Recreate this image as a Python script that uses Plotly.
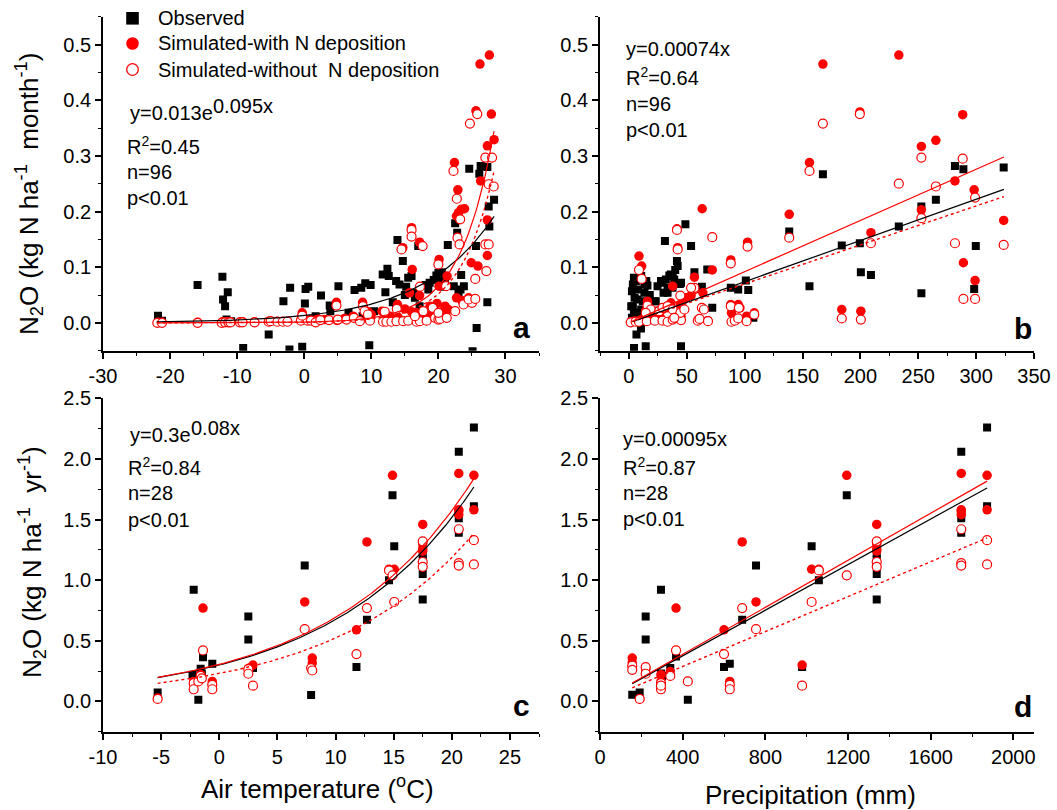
import numpy as np
import plotly.graph_objects as go

W, H = 1057, 810
FONT = "Liberation Sans, Arial, sans-serif"
RED = "#ff0000"

# ---------------- Panel a : monthly N2O vs air temperature ----------------
a_obs_x = [-21.8,-21.2,-15.9,-12.2,-12.1,-11.8,-11.4,-11.6,-10.9,-9.1,-5.3,-3.1,-2.2,-2.1,-0.3,0.1,0.2,0.6,1.7,2.5,
           3.8,3.9,5.1,6.6,7.5,8.5,9.1,9.9,8.7,9.7,10.4,11.7,12.4,12.1,12.6,13.9,14.7,13.7,14.2,15.2,
           13.2,13.7,15.5,16.0,16.3,17.0,16.5,17.2,17.5,18.1,18.7,19.3,19.7,20.5,20.3,21.4,20.8,20.0,22.5,22.8,
           22.3,23.0,23.4,23.3,23.8,24.6,25.6,25.7,25.1,26.1,26.3,27.3,27.5,27.6,28.3,27.3,9.3,18.5,21.0,15.0]
a_obs_y = [0.013,0.004,0.068,0.083,0.042,0.030,0.055,0.006,0.003,-0.045,-0.021,0.039,-0.048,0.063,-0.043,0.035,0.061,0.065,0.012,0.049,
           0.031,0.021,0.066,0.018,0.059,0.063,0.071,0.068,0.012,-0.040,0.021,0.087,0.097,0.055,0.084,0.149,0.111,0.075,0.069,0.065,
           0.037,0.033,0.081,0.084,0.054,0.138,0.045,0.030,0.015,0.068,0.072,0.077,0.085,0.091,0.075,0.140,0.065,0.090,0.179,0.162,
           0.066,0.054,0.086,0.060,0.066,0.277,0.138,-0.009,-0.051,0.268,0.282,0.280,0.209,0.173,0.221,0.037,0.014,0.060,0.080,0.050]
a_with_x = [-21.8,-21.2,-15.9,-12.2,-11.5,-11.0,-9.5,-9.2,-7.4,-5.3,-4.0,-3.2,-2.5,-0.5,0.5,1.0,
            26.2,27.6,25.6,27.9,28.3,27.3,22.4,22.9,26.3,23.4,23.9,23.0,22.7,27.3,27.3,24.9,25.9,22.7,21.3,21.5,
            20.1,20.1,19.8,16.1,15.7,17.2,16.7,17.5,14.7,16.0,17.2,11.6,13.9,8.7,7.3,4.8,-0.3,2.0,18.75,12.0,
            16.0,14.0,10.0,3.0,6.0,9.5,12.8,15.0,19.0,20.5,21.0,23.5,24.5,18.0]
a_with_y = [0.001,0.001,0.001,0.002,0.002,0.002,0.002,0.002,0.002,0.003,0.003,0.003,0.003,0.005,0.005,0.005,
            0.465,0.481,0.381,0.375,0.329,0.318,0.288,0.239,0.255,0.204,0.205,0.198,0.192,0.185,0.121,0.108,0.102,0.045,0.084,0.024,
            0.066,0.114,0.035,0.096,0.054,0.049,0.018,0.015,0.135,0.171,0.145,0.021,0.033,0.037,0.012,0.037,0.018,0.007,0.030,0.018,
            0.020,0.010,0.015,0.006,0.008,0.020,0.012,0.025,0.015,0.020,0.030,0.040,0.045,0.012]
a_wo_x = [-21.9,-21.2,-15.9,-12.3,-11.8,-11.3,-11.0,-9.6,-9.2,-7.4,-5.3,-5.0,-4.0,-3.2,-2.5,-0.5,0.5,1.0,1.7,2.4,
          3.7,4.9,5.0,6.3,7.4,8.3,9.6,9.8,-0.3,4.8,8.75,9.0,9.5,11.75,12.25,13.0,13.75,14.75,15.5,16.75,
          17.25,18.25,19.5,20.0,20.25,21.25,12.0,13.8,16.5,17.75,19.15,20.0,22.5,23.75,25.0,24.5,25.5,25.5,27.15,27.0,
          27.5,21.15,17.25,20.0,14.5,17.65,16.0,16.0,22.85,23.15,22.25,22.75,23.25,27.0,28.0,27.5,28.25,25.8,24.7]
a_wo_y = [0.0,0.0,0.0,0.0,0.001,0.001,0.001,0.001,0.001,0.001,0.002,0.003,0.002,0.002,0.002,0.004,0.004,0.004,0.001,0.005,
          0.005,0.005,0.006,0.006,0.009,0.003,0.009,0.004,0.013,0.031,0.030,0.021,0.015,0.002,0.002,0.002,0.003,0.003,0.004,0.002,
          0.003,0.004,0.009,0.006,0.007,0.009,0.020,0.025,0.012,0.021,0.027,0.018,0.021,0.033,0.036,0.042,0.043,0.079,0.093,0.141,
          0.141,0.066,0.065,0.105,0.132,0.138,0.167,0.155,0.153,0.141,0.273,0.223,0.186,0.297,0.297,0.249,0.245,0.375,0.358]

# ---------------- Panel b : monthly N2O vs precipitation ----------------
b_obs_x = [323.8,281.7,289,265.2,252.7,233.2,183.9,199.5,200.4,209.1,252.7,299.7,298.3,167.6,138.5,156,101,103.1,94.4,88,
           107.5,72,67.7,63,56.6,53.7,48.8,31.1,41.5,42.1,34.9,31.9,29,37.8,45,24.7,29.9,33.4,23.2,14.5,
           4.4,45,6.5,10.4,4.3,3.4,2.6,4.9,3.4,4.3,2.6,10.6,13.4,13.4,12,10.6,7.3,8.7,4.4,16,
           36.3,39.1,33.4,37.7,27.7,22,6,8,18,40,44,2,15]
b_obs_y = [0.279,0.282,0.276,0.221,0.209,0.173,0.139,0.143,0.091,0.086,0.053,0.138,0.061,0.267,0.164,0.066,0.076,0.059,0.06,0.063,
           0.009,0.027,0.096,0.065,0.091,0.138,0.177,0.147,0.111,0.102,0.085,0.078,0.072,0.084,0.072,0.066,0.054,0.054,0.039,-0.042,
           -0.045,-0.042,-0.021,-0.010,0.081,0.069,0.057,0.045,0.030,0.018,0.009,0.084,0.069,0.054,0.039,0.024,0.042,0.018,0.006,0.067,
           0.087,0.078,0.063,0.063,0.075,0.039,0.075,0.06,0.05,0.095,0.07,0.03,0.075]
b_with_x = [233.2,167.6,199.5,288.4,265.2,252.7,156,281.7,298.3,138.5,323.8,252.7,209.1,102.5,88,289,299.1,183.9,200.4,63.3,
            72,56.6,41.5,42.1,8.7,11,37.8,63.9,53.7,49.4,36.3,44.4,16,88,94.4,88.6,95.9,108.3,101.7,14.5,
            23.2,29,32.8,2,4,6,10,20,27,45,60,68]
b_with_y = [0.481,0.465,0.379,0.374,0.328,0.317,0.288,0.255,0.239,0.195,0.184,0.203,0.162,0.145,0.113,0.108,0.076,0.024,0.021,0.205,
            0.095,0.082,0.169,0.135,0.120,0.102,0.066,0.054,0.049,0.045,0.036,0.033,0.039,0.033,0.033,0.018,0.027,0.018,0.012,0.021,
            0.021,0.024,0.027,0.002,0.003,0.003,0.005,0.008,0.01,0.012,0.006,0.004]
b_wo_x = [199.5,167.6,252.7,288.4,156,233.2,265.2,299.1,252.7,323.8,281.7,209.1,138.5,102.5,88,72,41.5,42.1,289,299.1,
          183.9,200.4,8.7,11,56.6,53.7,63,64.8,88,95,108.3,1.5,5.8,8.7,15.4,22.4,29,33.4,37.8,45,
          59.5,61,68.3,88.6,91.5,94.4,101.7,16,18.9,26.1,29,33.4,37.8,44.4,47.9,14.5,39.2,44.4]
b_wo_y = [0.375,0.358,0.297,0.295,0.273,0.250,0.245,0.225,0.188,0.140,0.143,0.143,0.153,0.137,0.107,0.154,0.167,0.132,0.043,0.043,
          0.008,0.006,0.095,0.079,0.063,0.063,0.027,0.024,0.030,0.027,0.015,0.001,0.002,0.002,0.003,0.004,0.004,0.002,0.006,0.005,
          0.004,0.007,0.003,0.002,0.004,0.008,0.003,0.031,0.024,0.021,0.027,0.030,0.024,0.018,0.024,0.018,0.009,0.049]

# ---------------- Panel c : annual N2O vs air temperature ----------------
c_obs_x = [-5.3,-2.2,-2.3,-1.8,-1.6,-1.4,-0.6,2.5,2.5,2.9,7.35,7.9,11.8,12.7,14.9,15.05,14.6,17.5,17.5,17.5,
           20.6,20.6,20.6,21.9,21.9,17.5,20.6,-1.5]
c_obs_y = [0.074,0.92,0.22,0.014,0.27,0.365,0.31,0.70,0.51,0.275,1.12,0.052,0.283,0.673,1.70,1.28,1.00,0.84,1.05,1.22,
           2.06,1.51,1.39,2.26,1.61,1.17,1.55,0.23]
c_with_x = [-5.3,-1.4,-2.2,-1.6,-0.6,-0.6,2.9,2.6,7.35,8.0,8.0,11.8,12.7,14.9,14.6,15.05,17.5,17.5,17.5,20.6,
            20.6,20.6,21.9,21.9,2.5,-2.2,17.5,20.6]
c_with_y = [0.027,0.77,0.165,0.22,0.165,0.137,0.30,0.275,0.82,0.357,0.316,0.59,1.315,1.865,1.09,1.09,1.46,1.26,1.24,1.88,
            1.58,1.54,1.865,1.58,0.27,0.14,1.30,1.57]
c_wo_x = [-5.3,-1.4,-2.2,-2.2,-1.8,-1.6,-0.6,-0.6,2.5,2.5,2.9,7.35,7.9,8.0,11.8,12.7,14.6,14.9,15.05,17.5,
          17.5,17.5,20.6,20.6,20.6,21.9,21.9,-1.5]
c_wo_y = [0.02,0.42,0.15,0.10,0.165,0.21,0.137,0.10,0.266,0.228,0.13,0.596,0.275,0.255,0.39,0.77,1.08,1.04,0.82,1.32,
          1.15,1.11,1.42,1.14,1.12,1.33,1.13,0.19]

# ---------------- Panel d : annual N2O vs precipitation ----------------
d_obs_x = [156,192,221,221,295,295,340,368,425,600,628,688,755,978,1024,1059,1194,1339,1339,1339,
           1748,1748,1748,1873,1873,1748,1339,300]
d_obs_y = [0.055,0.074,0.70,0.51,0.92,0.23,0.275,0.37,0.014,0.283,0.31,0.673,1.12,0.283,1.28,1.00,1.70,0.84,1.05,1.22,
           2.06,1.51,1.39,2.26,1.61,1.55,1.17,0.21]
d_with_x = [156,156,192,221,295,295,340,368,600,628,628,688,755,978,1024,1059,1194,1339,1339,1339,
            1748,1748,1748,1873,1873,1339,1748,221]
d_with_y = [0.357,0.32,0.02,0.26,0.22,0.165,0.247,0.77,0.59,0.165,0.137,1.315,0.82,0.30,1.09,1.09,1.865,1.46,1.26,1.24,
            1.88,1.58,1.54,1.865,1.58,1.30,1.57,0.27]
d_wo_x = [156,156,192,221,221,295,295,340,368,425,600,628,628,688,755,978,1024,1059,1194,1339,
          1339,1339,1748,1748,1748,1873,1873,295]
d_wo_y = [0.294,0.26,0.02,0.283,0.228,0.15,0.10,0.21,0.42,0.165,0.39,0.137,0.10,0.77,0.596,0.13,0.82,1.08,1.04,1.32,
          1.15,1.11,1.42,1.14,1.12,1.33,1.13,0.13]

# ---------------- fitted curves (coefficients) ----------------
# exponential: y = a*exp(b*x); linear: y = k*x
fit_a = {"obs": (0.013, 0.095), "with": (0.0012, 0.20), "wo": (0.00095, 0.20)}
fit_a_span = (-22.0, 28.3)
fit_b = {"obs": 0.00074, "with": 0.00092, "wo": 0.00070}
fit_b_span = (3.0, 324.0)
fit_c = {"obs": (0.30, 0.081), "with": (0.305, 0.082), "wo": (0.23, 0.082)}
fit_c_span = (-5.3, 21.9)
fit_d = {"obs": 0.00094, "with": 0.00097, "wo": 0.00072}
fit_d_span = (156.0, 1873.0)

# ---------------- text ----------------
stats_a = ["R<sup>2</sup>=0.45", "n=96", "p&lt;0.01"]
stats_b = ["y=0.00074x", "R<sup>2</sup>=0.64", "n=96", "p&lt;0.01"]
stats_c = ["R<sup>2</sup>=0.84", "n=28", "p&lt;0.01"]
stats_d = ["y=0.00095x", "R<sup>2</sup>=0.87", "n=28", "p&lt;0.01"]
eq_a = ("y=0.013e", "0.095x")
eq_c = ("y=0.3e", "0.08x")
legend_names = ["Observed", "Simulated-with N deposition", "Simulated-without\u00a0 N deposition"]

# tick definitions
xt_a = [-30, -20, -10, 0, 10, 20, 30]
xt_b = [0, 50, 100, 150, 200, 250, 300, 350]
xt_c = [-10, -5, 0, 5, 10, 15, 20, 25]
xt_d = [0, 400, 800, 1200, 1600, 2000]
yt_top = [0.0, 0.1, 0.2, 0.3, 0.4, 0.5]
yt_bot = [0.0, 0.5, 1.0, 1.5, 2.0, 2.5]

# ---------------- layout geometry (pixels) ----------------
LX = (103, 539)
RX = (600, 1034)
TY = (16.7, 350.7)
BY = (398.3, 731.7)


def xdom(p):
    return [p[0] / W, p[1] / W]


def ydom(p):
    return [1 - p[1] / H, 1 - p[0] / H]


fig = go.Figure()

panels = [
    ("x", "y", (a_obs_x, a_obs_y), (a_with_x, a_with_y), (a_wo_x, a_wo_y)),
    ("x2", "y2", (b_obs_x, b_obs_y), (b_with_x, b_with_y), (b_wo_x, b_wo_y)),
    ("x3", "y3", (c_obs_x, c_obs_y), (c_with_x, c_with_y), (c_wo_x, c_wo_y)),
    ("x4", "y4", (d_obs_x, d_obs_y), (d_with_x, d_with_y), (d_wo_x, d_wo_y)),
]

for xa, ya, obs, wi, wo in panels:
    fig.add_trace(go.Scatter(x=obs[0], y=obs[1], mode="markers", xaxis=xa, yaxis=ya, showlegend=False,
                             marker=dict(symbol="square", size=8, color="black", line=dict(width=0))))
    fig.add_trace(go.Scatter(x=wi[0], y=wi[1], mode="markers", xaxis=xa, yaxis=ya, showlegend=False,
                             marker=dict(symbol="circle", size=9.5, color=RED, line=dict(width=0))))
    fig.add_trace(go.Scatter(x=wo[0], y=wo[1], mode="markers", xaxis=xa, yaxis=ya, showlegend=False,
                             marker=dict(symbol="circle", size=9, color="white", line=dict(width=1.2, color=RED))))


def add_lines(xa, ya, xs, ys_obs, ys_with, ys_wo):
    fig.add_trace(go.Scatter(x=xs, y=ys_wo, mode="lines", xaxis=xa, yaxis=ya, showlegend=False,
                             line=dict(color=RED, width=1.4, dash="dot")))
    fig.add_trace(go.Scatter(x=xs, y=ys_obs, mode="lines", xaxis=xa, yaxis=ya, showlegend=False,
                             line=dict(color="black", width=1.2)))
    fig.add_trace(go.Scatter(x=xs, y=ys_with, mode="lines", xaxis=xa, yaxis=ya, showlegend=False,
                             line=dict(color=RED, width=1.2)))


xs = np.linspace(*fit_a_span, 200)
add_lines("x", "y", xs, *[fit_a[k][0] * np.exp(fit_a[k][1] * xs) for k in ("obs", "with", "wo")])
xs = np.linspace(*fit_b_span, 50)
add_lines("x2", "y2", xs, *[fit_b[k] * xs for k in ("obs", "with", "wo")])
xs = np.linspace(*fit_c_span, 200)
add_lines("x3", "y3", xs, *[fit_c[k][0] * np.exp(fit_c[k][1] * xs) for k in ("obs", "with", "wo")])
xs = np.linspace(*fit_d_span, 50)
add_lines("x4", "y4", xs, *[fit_d[k] * xs for k in ("obs", "with", "wo")])

tickfont = dict(family=FONT, size=20, color="black")


def axis(dom, rng, tv, tt, minor_vals, anchor):
    return dict(domain=dom, range=rng, anchor=anchor, showline=True, linecolor="black", linewidth=1.8,
                ticks="outside", ticklen=6, tickwidth=1.5, tickcolor="black", showgrid=False, zeroline=False,
                tickmode="array", tickvals=tv, ticktext=tt, tickfont=tickfont, automargin=False,
                minor=dict(tickmode="array", tickvals=minor_vals, ticks="outside", ticklen=3.5,
                           tickwidth=1.3, tickcolor="black", showgrid=False))


def lab(vals, fmt):
    return [fmt.format(v) for v in vals]


fig.update_layout(
    width=W, height=H, margin=dict(l=0, r=0, t=0, b=0),
    paper_bgcolor="white", plot_bgcolor="white",
    xaxis=axis(xdom(LX), [-30, 35], xt_a, lab(xt_a, "{:d}"), [-25, -15, -5, 5, 15, 25, 35], "y"),
    yaxis=axis(ydom(TY), [-0.05, 0.55], yt_top, lab(yt_top, "{:.1f}"),
               [-0.05, 0.05, 0.15, 0.25, 0.35, 0.45, 0.55], "x"),
    xaxis2=axis(xdom(RX), [-25, 350], xt_b, lab(xt_b, "{:d}"), [-25, 25, 75, 125, 175, 225, 275, 325], "y2"),
    yaxis2=axis(ydom(TY), [-0.05, 0.55], yt_top, lab(yt_top, "{:.1f}"),
                [-0.05, 0.05, 0.15, 0.25, 0.35, 0.45, 0.55], "x2"),
    xaxis3=axis(xdom(LX), [-10, 27.5], xt_c, lab(xt_c, "{:d}"),
                [-7.5, -2.5, 2.5, 7.5, 12.5, 17.5, 22.5, 27.5], "y3"),
    yaxis3=axis(ydom(BY), [-0.25, 2.5], yt_bot, lab(yt_bot, "{:.1f}"),
                [-0.25, 0.25, 0.75, 1.25, 1.75, 2.25], "x3"),
    xaxis4=axis(xdom(RX), [0, 2100], xt_d, lab(xt_d, "{:d}"), [200, 600, 1000, 1400, 1800], "y4"),
    yaxis4=axis(ydom(BY), [-0.25, 2.5], yt_bot, lab(yt_bot, "{:.1f}"),
                [-0.25, 0.25, 0.75, 1.25, 1.75, 2.25], "x4"),
)

annotations = []


def ann(text, x, y, size=20, xanchor="left", bold=False, angle=0):
    annotations.append(dict(text=("<b>%s</b>" % text) if bold else text, x=x / W, y=1 - y / H,
                            xref="paper", yref="paper", xanchor=xanchor, yanchor="middle",
                            showarrow=False, textangle=angle,
                            font=dict(family=FONT, size=size, color="black")))


# regression equations (base + raised exponent)
ann(eq_a[0], 128, 113)
ann(eq_a[1], 128 + 83, 106)
ann(eq_c[0], 128, 435)
ann(eq_c[1], 128 + 61, 428)

# statistics text
for txt, (x, y) in zip(stats_a, [(125, 145), (125, 172), (125, 198)]):
    ann(txt, x, y)
for txt, (x, y) in zip(stats_b, [(624, 49), (624, 76), (624, 104), (624, 130)]):
    ann(txt, x, y)
for txt, (x, y) in zip(stats_c, [(126, 466), (126, 493), (126, 520)]):
    ann(txt, x, y)
for txt, (x, y) in zip(stats_d, [(621, 439), (621, 466), (621, 493), (621, 519)]):
    ann(txt, x, y)

# panel letters
for t, x, y in [("a", 521, 327), ("b", 1023, 329), ("c", 521, 705), ("d", 1023, 706)]:
    ann(t, x, y, size=30, xanchor="center", bold=True)

# axis titles
ann("N<sub>2</sub>O (kg N ha<sup>-1</sup>\u00a0 month<sup>-1</sup>)", 29, 194, size=26, xanchor="center", angle=-90)
ann("N<sub>2</sub>O (kg N ha<sup>-1</sup>\u00a0 yr<sup>-1</sup>)", 32, 562, size=26, xanchor="center", angle=-90)
ann("Air temperature (<sup>o</sup>C)", 317, 787, size=26, xanchor="center")
ann("Precipitation (mm)", 810, 795, size=26, xanchor="center")

# legend text
for name, y in zip(legend_names, [18.3, 43.5, 69.5]):
    ann(name, 156, y)

fig.update_layout(annotations=annotations)

# legend symbols (shapes in paper coordinates)
cx = 132.5
s = 6.3
shapes = [
    dict(type="rect", xref="paper", yref="paper", x0=(cx - s) / W, x1=(cx + s) / W,
         y0=1 - (18.3 + s) / H, y1=1 - (18.3 - s) / H, fillcolor="black", line=dict(width=0)),
    dict(type="circle", xref="paper", yref="paper", x0=(cx - s) / W, x1=(cx + s) / W,
         y0=1 - (43.5 + s) / H, y1=1 - (43.5 - s) / H, fillcolor=RED, line=dict(width=0)),
    dict(type="circle", xref="paper", yref="paper", x0=(cx - 5.8) / W, x1=(cx + 5.8) / W,
         y0=1 - (69.5 + 5.8) / H, y1=1 - (69.5 - 5.8) / H, fillcolor="white", line=dict(width=1.3, color=RED)),
]
fig.update_layout(shapes=shapes)

fig.write_html("out.html", config={"displayModeBar": False},
               post_script="document.body.style.margin='0px';")
